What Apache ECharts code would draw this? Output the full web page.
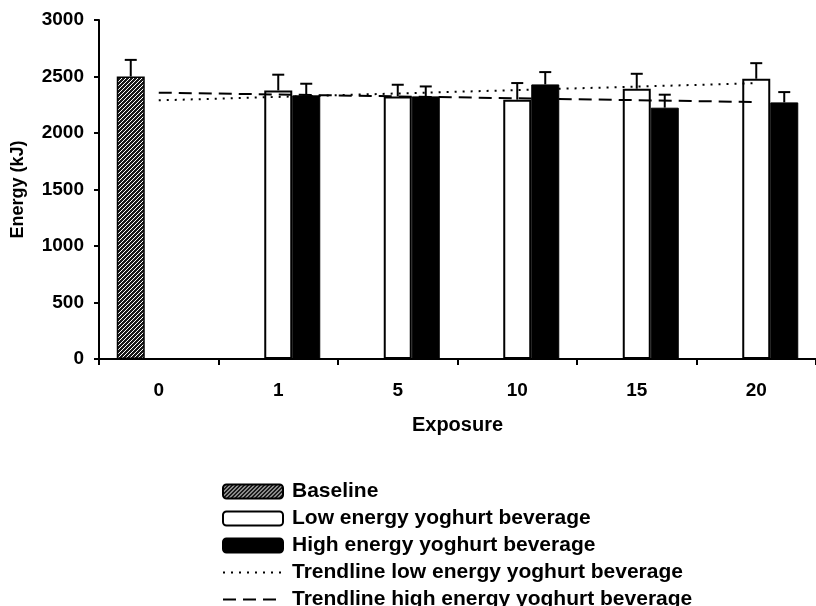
<!DOCTYPE html>
<html><head><meta charset="utf-8">
<script src="https://cdn.jsdelivr.net/npm/echarts@6/dist/echarts.min.js"></script>
<style>html,body{margin:0;padding:0;background:#fff}#c{width:816px;height:606px}</style>
</head><body><div id="c"></div>
<script>
const categories = ['0', '1', '5', '10', '15', '20'];
const baseline = [2500, null, null, null, null, null];
const baselineErr = [147, null, null, null, null, null];
const lowEnergy = [null, 2377, 2324, 2295, 2392, 2480];
const lowEnergyErr = [null, 139, 103, 147, 132, 138];
const highEnergy = [null, 2333, 2324, 2430, 2224, 2271];
const highEnergyErr = [null, 103, 88, 109, 115, 91];
const trendLow = [2289, null, null, null, null, 2441];
const trendHigh = [2357, null, null, null, null, 2274];
const yTicks = { min: 0, max: 3000, interval: 500 };

const FONT = '"Liberation Sans", Arial, sans-serif';
const BW = 28;

const hatch = document.createElement('canvas');
hatch.width = 4; hatch.height = 4;
const hc = hatch.getContext('2d');
hc.fillStyle = '#1a1a1a'; hc.fillRect(0, 0, 4, 4);
hc.strokeStyle = '#ffffff'; hc.lineWidth = 1;
hc.beginPath();
hc.moveTo(-1, 5); hc.lineTo(5, -1);
hc.moveTo(-3, 3); hc.lineTo(3, -3);
hc.moveTo(1, 7); hc.lineTo(7, 1);
hc.stroke();

function errData(vals, errs) {
  const out = [];
  vals.forEach((v, i) => { if (v != null) out.push([i, v, errs[i]]); });
  return out;
}
function errSeries(name, vals, errs, offset) {
  return {
    type: 'custom', name: name, z: 5,
    renderItem: function (params, api) {
      const p0 = api.coord([api.value(0), api.value(1)]);
      const p1 = api.coord([api.value(0), api.value(1) + api.value(2)]);
      const x = p0[0] + offset;
      const st = { stroke: '#000', lineWidth: 2 };
      return { type: 'group', children: [
        { type: 'line', shape: { x1: x, y1: p0[1], x2: x, y2: p1[1] }, style: st },
        { type: 'line', shape: { x1: x - 6, y1: p1[1], x2: x + 6, y2: p1[1] }, style: st }
      ]};
    },
    data: errData(vals, errs)
  };
}

const noSym = { color: 'rgba(0,0,0,0)', borderColor: 'rgba(0,0,0,0)', borderWidth: 0 };
const legendText = { fontFamily: FONT, fontWeight: 'bold', fontSize: 21, color: '#000', padding: [0, 0, 0, 4] };

const chart = echarts.init(document.getElementById('c'));
chart.setOption({
  animation: false,
  backgroundColor: '#fff',
  grid: { left: 99, top: 20, width: 723, height: 339, containLabel: false },
  xAxis: {
    type: 'category', data: categories,
    name: 'Exposure', nameLocation: 'middle', nameGap: 56,
    nameTextStyle: { fontFamily: FONT, fontWeight: 'bold', fontSize: 20, color: '#000' },
    axisLine: { lineStyle: { color: '#000', width: 2 } },
    axisTick: { show: true, length: 6, lineStyle: { color: '#000', width: 2 } },
    axisLabel: { fontFamily: FONT, fontWeight: 'bold', fontSize: 19, color: '#000', margin: 22 }
  },
  yAxis: {
    type: 'value', min: yTicks.min, max: yTicks.max, interval: yTicks.interval,
    name: 'Energy (kJ)', nameLocation: 'middle', nameGap: 72, nameRotate: 90,
    nameTextStyle: { fontFamily: FONT, fontWeight: 'bold', fontSize: 18, color: '#000' },
    axisLine: { show: true, lineStyle: { color: '#000', width: 2 } },
    axisTick: { show: true, length: 5, lineStyle: { color: '#000', width: 2 } },
    splitLine: { show: false },
    axisLabel: { fontFamily: FONT, fontWeight: 'bold', fontSize: 19, color: '#000', margin: 15,
      formatter: v => String(v) }
  },
  legend: [
    {
      orient: 'vertical', left: 217, top: 476, height: 90, itemWidth: 60, itemHeight: 14, itemGap: 6,
      data: ['Baseline', 'Low energy yoghurt beverage', 'High energy yoghurt beverage'],
      textStyle: legendText
    },
    {
      orient: 'vertical', left: 217, top: 557, height: 60, itemWidth: 60, itemHeight: 14, itemGap: 6,
      data: [
        { name: 'Trendline low energy yoghurt beverage', itemStyle: noSym },
        { name: 'Trendline high energy yoghurt beverage', itemStyle: noSym }
      ],
      textStyle: legendText
    }
  ],
  series: [
    { type: 'bar', name: 'Baseline', data: baseline, barWidth: BW, barGap: '0%',
      itemStyle: { color: { image: hatch, repeat: 'repeat' }, borderColor: '#000', borderWidth: 1.5 } },
    { type: 'bar', name: 'Low energy yoghurt beverage', data: lowEnergy, barWidth: BW, barGap: '0%',
      itemStyle: { color: '#fff', borderColor: '#000', borderWidth: 2 } },
    { type: 'bar', name: 'High energy yoghurt beverage', data: highEnergy, barWidth: BW, barGap: '0%',
      itemStyle: { color: '#000', borderColor: '#000', borderWidth: 1 } },
    errSeries('errBase', baseline, baselineErr, -BW),
    errSeries('errLow', lowEnergy, lowEnergyErr, 0),
    errSeries('errHigh', highEnergy, highEnergyErr, BW),
    { type: 'line', name: 'Trendline low energy yoghurt beverage', data: trendLow, connectNulls: true,
      symbol: 'none', z: 6, lineStyle: { color: '#000', width: 2, type: [2, 6] }, itemStyle: noSym },
    { type: 'line', name: 'Trendline high energy yoghurt beverage', data: trendHigh, connectNulls: true,
      symbol: 'none', z: 6, lineStyle: { color: '#000', width: 2, type: [13, 7] }, itemStyle: noSym }
  ]
});
</script></body></html>
